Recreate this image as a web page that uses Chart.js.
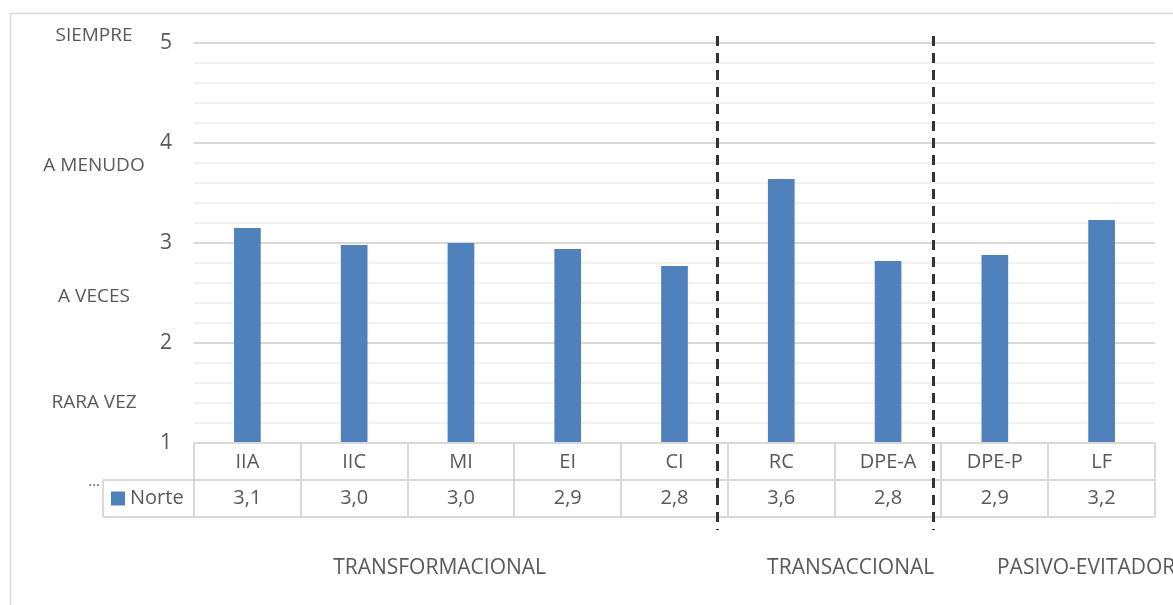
<!DOCTYPE html>
<html>
<head>
<meta charset="utf-8">
<script src="https://cdn.jsdelivr.net/npm/chart.js@4.4.1/dist/chart.umd.min.js"></script>
<style>
  html, body { margin: 0; padding: 0; background: #ffffff; }
  #wrap { width: 1173px; height: 605px; }
</style>
</head>
<body>
<div id="wrap"><canvas id="c" width="1173" height="605"></canvas></div>
<script>
// ---- Data ----
const categories = ['IIA', 'IIC', 'MI', 'EI', 'CI', 'RC', 'DPE-A', 'DPE-P', 'LF'];
const norteValues = [3.15, 2.98, 3.00, 2.94, 2.77, 3.64, 2.82, 2.88, 3.23];
const norteTableLabels = ['3,1', '3,0', '3,0', '2,9', '2,8', '3,6', '2,8', '2,9', '3,2'];
const seriesName = 'Norte';
const yTickValues = [1, 2, 3, 4, 5];
const scaleLabels = ['SIEMPRE', 'A MENUDO', 'A VECES', 'RARA VEZ'];
const groupLabels = ['TRANSFORMACIONAL', 'TRANSACCIONAL', 'PASIVO-EVITADOR'];

// ---- Styling / layout (not data) ----
const TEXT = '#595959';
const BAR = '#4f81bd';
const FONT = "'Open Sans', sans-serif";
const scaleLabelAnchors = [5.07, 3.77, 2.46, 1.40];     // y-values where scale words sit
const groupLabelAnchors = [{v: 1.80, align: 'center'}, {v: 5.65, align: 'center'}, {v: 7.02, align: 'left'}];
const separatorAnchors = [4.40, 6.42];                  // category positions of dashed lines

const decoPlugin = {
  id: 'deco',
  beforeDraw(chart) {
    const ctx = chart.ctx;
    ctx.save();
    ctx.fillStyle = '#ffffff';
    ctx.fillRect(0, 0, chart.width, chart.height);
    ctx.strokeStyle = '#d9d9d9';
    ctx.lineWidth = 1.5;
    ctx.strokeRect(10.5, 13.5, chart.width + 20, chart.height + 20);
    ctx.restore();
  },
  afterDraw(chart) {
    const ctx = chart.ctx;
    const {left, right, bottom} = chart.chartArea;
    const x = chart.scales.x, y = chart.scales.y;
    const n = categories.length;
    const cw = (right - left) / n;
    const rowH = 37;
    const legendW = 91;
    ctx.save();
    // table grid
    ctx.strokeStyle = '#d9d9d9';
    ctx.lineWidth = 2;
    ctx.beginPath();
    ctx.moveTo(left, bottom); ctx.lineTo(right, bottom);
    ctx.moveTo(left - legendW, bottom + rowH); ctx.lineTo(right, bottom + rowH);
    ctx.moveTo(left - legendW, bottom + 2 * rowH); ctx.lineTo(right, bottom + 2 * rowH);
    for (let i = 0; i <= n; i++) {
      const px = Math.round(left + i * cw);
      ctx.moveTo(px, bottom); ctx.lineTo(px, bottom + 2 * rowH);
    }
    ctx.moveTo(left - legendW, bottom + rowH); ctx.lineTo(left - legendW, bottom + 2 * rowH);
    ctx.stroke();

    // data row values
    ctx.fillStyle = TEXT;
    ctx.font = '20px ' + FONT;
    ctx.textAlign = 'center';
    ctx.textBaseline = 'middle';
    norteTableLabels.forEach((t, i) => {
      ctx.fillText(t, x.getPixelForValue(i), bottom + rowH * 1.5);
    });
    // legend cell
    ctx.fillStyle = BAR;
    ctx.fillRect(left - legendW + 8, bottom + rowH * 1.5 - 7, 14, 14);
    ctx.fillStyle = TEXT;
    ctx.textAlign = 'left';
    ctx.fillText(seriesName, left - legendW + 27, bottom + rowH * 1.5);
    ctx.font = '15px ' + FONT;
    ctx.textAlign = 'center';
    ctx.fillText('…', left - 100, bottom + rowH + 2);

    // scale words on the left
    ctx.font = '19px ' + FONT;
    ctx.textAlign = 'center';
    scaleLabels.forEach((t, i) => {
      ctx.fillText(t, left - 100, y.getPixelForValue(scaleLabelAnchors[i]));
    });

    // group labels
    ctx.font = '21px ' + FONT;
    groupLabels.forEach((t, i) => {
      const a = groupLabelAnchors[i];
      ctx.textAlign = a.align;
      ctx.fillText(t, x.getPixelForValue(a.v), bottom + 125);
    });

    // dashed separators
    ctx.strokeStyle = '#333333';
    ctx.lineWidth = 3;
    ctx.setLineDash([10, 7]);
    separatorAnchors.forEach(v => {
      const px = Math.round(x.getPixelForValue(v)) + 0.5;
      ctx.beginPath();
      ctx.moveTo(px, chart.chartArea.top - 7);
      ctx.lineTo(px, bottom + 87);
      ctx.stroke();
    });
    ctx.restore();
  }
};

const isInt = v => Math.abs(v - Math.round(v)) < 1e-6;

new Chart(document.getElementById('c'), {
  type: 'bar',
  data: {
    labels: categories,
    datasets: [{
      label: seriesName,
      data: norteValues,
      backgroundColor: BAR,
      borderWidth: 0,
      categoryPercentage: 1.0,
      barPercentage: 0.25
    }]
  },
  options: {
    responsive: false,
    animation: false,
    devicePixelRatio: 1,
    layout: { padding: { left: 0, top: 43, right: 18, bottom: 0 } },
    plugins: { legend: { display: false }, tooltip: { enabled: false } },
    scales: {
      x: {
        grid: { display: false, drawTicks: false },
        border: { display: false },
        ticks: { color: TEXT, font: { family: FONT, size: 20 }, padding: 7, maxRotation: 0, autoSkip: false },
        afterFit(s) { s.height = 162; }
      },
      y: {
        min: 1, max: 5,
        afterBuildTicks(s) {
          const t = [];
          for (let k = 0; k <= 20; k++) t.push({ value: yTickValues[0] + k * 0.2 });
          s.ticks = t;
        },
        grid: {
          drawTicks: false,
          lineWidth: 2,
          color: c => isInt(c.tick.value) ? '#d9d9d9' : '#f2f2f2'
        },
        border: { display: false },
        ticks: {
          autoSkip: false,
          color: TEXT,
          font: { family: FONT, size: 21 },
          padding: 22,
          callback: v => (isInt(v) && yTickValues.includes(Math.round(v))) ? String(Math.round(v)) : ''
        },
        afterFit(s) { s.width = 194; }
      }
    }
  },
  plugins: [decoPlugin]
});
</script>
</body>
</html>
